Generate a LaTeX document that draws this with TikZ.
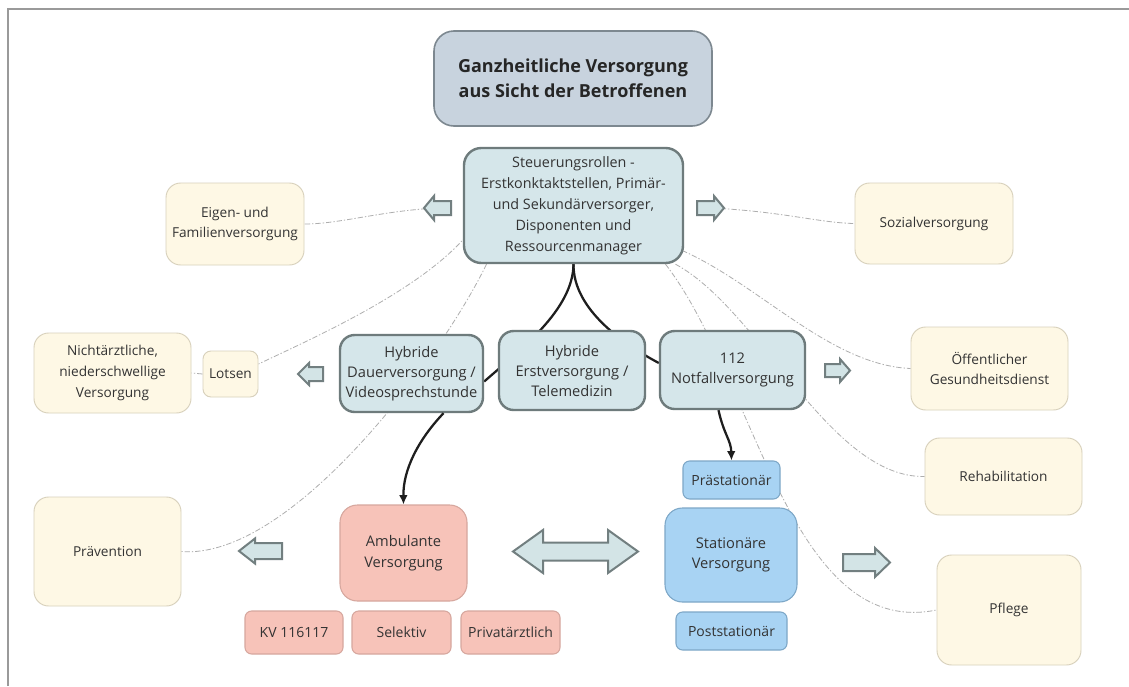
\documentclass[tikz,border=0pt]{standalone}
\usepackage{fontspec}
\setmainfont{Open Sans}
\usetikzlibrary{arrows.meta,calc}
\pgfdeclarelayer{back}
\pgfdeclarelayer{bg}
\pgfsetlayers{back,bg,main}
\definecolor{framec}{HTML}{9A9A9A}
\definecolor{titlefill}{HTML}{C8D3DE}
\definecolor{titlebord}{HTML}{7D8890}
\definecolor{bgblue}{HTML}{D5E6EA}
\definecolor{bbord}{HTML}{6E7B7C}
\definecolor{cream}{HTML}{FEF8E5}
\definecolor{creamb}{HTML}{D8D1BC}
\definecolor{salmon}{HTML}{F7C3B9}
\definecolor{salb}{HTML}{D6A79E}
\definecolor{sky}{HTML}{A8D3F3}
\definecolor{skyb}{HTML}{7DA7C7}
\definecolor{txt}{HTML}{333333}
\definecolor{arrfill}{HTML}{D3E4E6}
\definecolor{arrbord}{HTML}{727F80}
\definecolor{dashc}{HTML}{AEAEAE}
\definecolor{blk}{HTML}{1E1E1E}
\newcommand\barrow[7]{% cx cy L H h a dir
\draw[blockarr] ({#1-(#7)*#3/2},{#2-#5/2}) -- ({#1+(#7)*(#3/2-#6)},{#2-#5/2}) -- ({#1+(#7)*(#3/2-#6)},{#2-#4/2}) -- ({#1+(#7)*#3/2},#2) -- ({#1+(#7)*(#3/2-#6)},{#2+#4/2}) -- ({#1+(#7)*(#3/2-#6)},{#2+#5/2}) -- ({#1-(#7)*#3/2},{#2+#5/2}) -- cycle;}
\begin{document}
\begin{tikzpicture}[x=0.75pt,y=-0.75pt,
  wh/.style 2 args={minimum width=#1*0.75pt, minimum height=#2*0.75pt},
  base/.style={align=center, inner sep=0pt, text=txt},
  titlebox/.style={base, fill=titlefill, draw=titlebord, line width=1.2pt, rounded corners=15pt, text=black!85, font=\fontsize{13.5}{19}\selectfont\bfseries},
  bluebox/.style={base, fill=bgblue, draw=bbord, line width=1.8pt, rounded corners=11pt, font=\fontsize{11}{15}\selectfont},
  creambox/.style={base, fill=cream, draw=creamb, line width=0.7pt, rounded corners=11pt, font=\fontsize{10.25}{15.5}\selectfont},
  salbox/.style={base, fill=salmon, draw=salb, line width=0.8pt, rounded corners=13pt, font=\fontsize{11}{15.5}\selectfont},
  salsmall/.style={salbox, rounded corners=5pt, font=\fontsize{10.5}{14}\selectfont},
  skybox/.style={base, fill=sky, draw=skyb, line width=0.8pt, rounded corners=13pt, font=\fontsize{11}{15.5}\selectfont},
  skysmall/.style={skybox, rounded corners=5pt, font=\fontsize{10.5}{14}\selectfont},
  blockarr/.style={fill=arrfill, draw=arrbord, line width=1.5pt, line join=miter},
  dashline/.style={draw=dashc, line width=0.6pt, dash pattern=on 4pt off 1.5pt on 1pt off 1.5pt},
  blkline/.style={draw=blk, line width=1.7pt},
  blkarrow/.style={blkline, -{Latex[length=7pt,width=6.5pt]}}
]
\useasboundingbox (0,0) rectangle (1129,686);
\begin{pgfonlayer}{back}
\fill[white] (0,0) rectangle (1129,686);
\end{pgfonlayer}
\draw[framec, line width=1.5pt] (8,686) -- (8,9) -- (1129,9);

% nodes
\node[titlebox, wh={278}{95}] (title) at (573,78.5) {Ganzheitliche Versorgung\\aus Sicht der Betroffenen};
\node[bluebox, wh={219}{115}, rounded corners=13pt, font=\fontsize{10.75}{15.75}\selectfont] (steu) at (573.5,205.5) {Steuerungsrollen -\\Erstkonktaktstellen, Primär-\\und Sekundärversorger,\\Disponenten und\\Ressourcenmanager};
\node[creambox, wh={138}{82}] (eigen) at (235,224) {Eigen- und\\Familienversorgung};
\node[creambox, wh={158}{81}] (sozial) at (934,223.5) {Sozialversorgung};
\node[creambox, wh={157}{80}] (nicht) at (112.5,373) {Nichtärztliche,\\niederschwellige\\Versorgung};
\node[creambox, wh={55}{46}, rounded corners=6pt] (lotsen) at (230.5,374) {Lotsen};
\node[bluebox, wh={143}{77}] (dauer) at (411.5,373.5) {Hybride\\Dauerversorgung /\\Videosprechstunde};
\node[bluebox, wh={146}{79}] (erst) at (572,370.5) {Hybride\\Erstversorgung /\\Telemedizin};
\node[bluebox, wh={145}{78}] (notf) at (732.5,370) {112\\Notfallversorgung};
\node[creambox, wh={157}{83}] (oeff) at (989.5,368.5) {Öffentlicher\\Gesundheitsdienst};
\node[creambox, wh={157}{77}] (reha) at (1003.5,476.5) {Rehabilitation};
\node[skysmall, wh={97}{38}] (praest) at (731.5,480) {Prästationär};
\node[skybox, wh={132}{94}] (stat) at (731,555) {Stationäre\\Versorgung};
\node[skysmall, wh={111}{38}] (post) at (731.5,631) {Poststationär};
\node[salbox, wh={127}{96}] (amb) at (403.5,553) {Ambulante\\Versorgung};
\node[salsmall, wh={98}{43}] (kv) at (294,632.5) {KV 116117};
\node[salsmall, wh={99}{43}] (sel) at (401.5,632.5) {Selektiv};
\node[salsmall, wh={99}{43}] (priv) at (510.5,632.5) {Privatärztlich};
\node[creambox, wh={147}{109}] (praev) at (107.5,551.5) {Prävention};
\node[creambox, wh={144}{110}] (pflege) at (1009,610) {Pflege};

% block arrows
\barrow{437.5}{208}{27}{24}{14}{10}{-1}
\barrow{710.5}{208}{27}{24}{14}{10}{1}
\barrow{310.5}{374}{25}{22}{14}{11}{-1}
\barrow{837.5}{370.5}{25}{23}{13}{10}{1}
\barrow{260.5}{551}{43}{25}{16}{16}{-1}
\barrow{866.5}{562.5}{47}{29}{17}{15}{1}
\draw[blockarr] (513,551.5) -- (543,530) -- (543,542.5) -- (608,542.5) -- (608,530) -- (638,551.5) -- (608,573) -- (608,560.5) -- (543,560.5) -- (543,573) -- cycle;
\coordinate (a1) at (437,208);
\coordinate (a2) at (710,208);

% connectors on background
\begin{pgfonlayer}{bg}
\draw[dashline] (a1) .. controls (380,211) and (340,224) .. (eigen.east);
\draw[dashline] (a2) .. controls (780,211) and (820,223) .. (sozial.west);
\draw[dashline] ($(steu.west)+(4,30)$) .. controls (420,290) and (320,335) .. ($(lotsen.east)+(0,-10)$);
\draw[dashline] (lotsen.west) -- (nicht.east);
\draw[dashline] ($(steu.south)+(-87,0)$) .. controls (440,360) and (290,560) .. (praev.east);
\draw[dashline] ($(steu.east)+(-2,45)$) .. controls (760,285) and (830,365) .. (oeff.west);
\draw[dashline] ($(steu.south)+(102,0)$) .. controls (760,310) and (830,478) .. (reha.west);
\draw[dashline] ($(steu.south)+(92,0)$) .. controls (755,380) and (790,640) .. (pflege.west);
\draw[blkline] (steu.south) .. controls (573,310) and (520,350) .. ($(dauer.east)+(0,8)$);
\draw[blkline] (steu.south) .. controls (573,310) and (625,345) .. ($(notf.west)+(0,-7)$);
\end{pgfonlayer}
\draw[blkarrow] ($(dauer.south)+(32,0)$) .. controls (418,440) and (403,470) .. (amb.north);
\draw[blkarrow] ($(notf.south)+(-14,0)$) .. controls (724,435) and (731,440) .. (praest.north);
\end{tikzpicture}
\end{document}
